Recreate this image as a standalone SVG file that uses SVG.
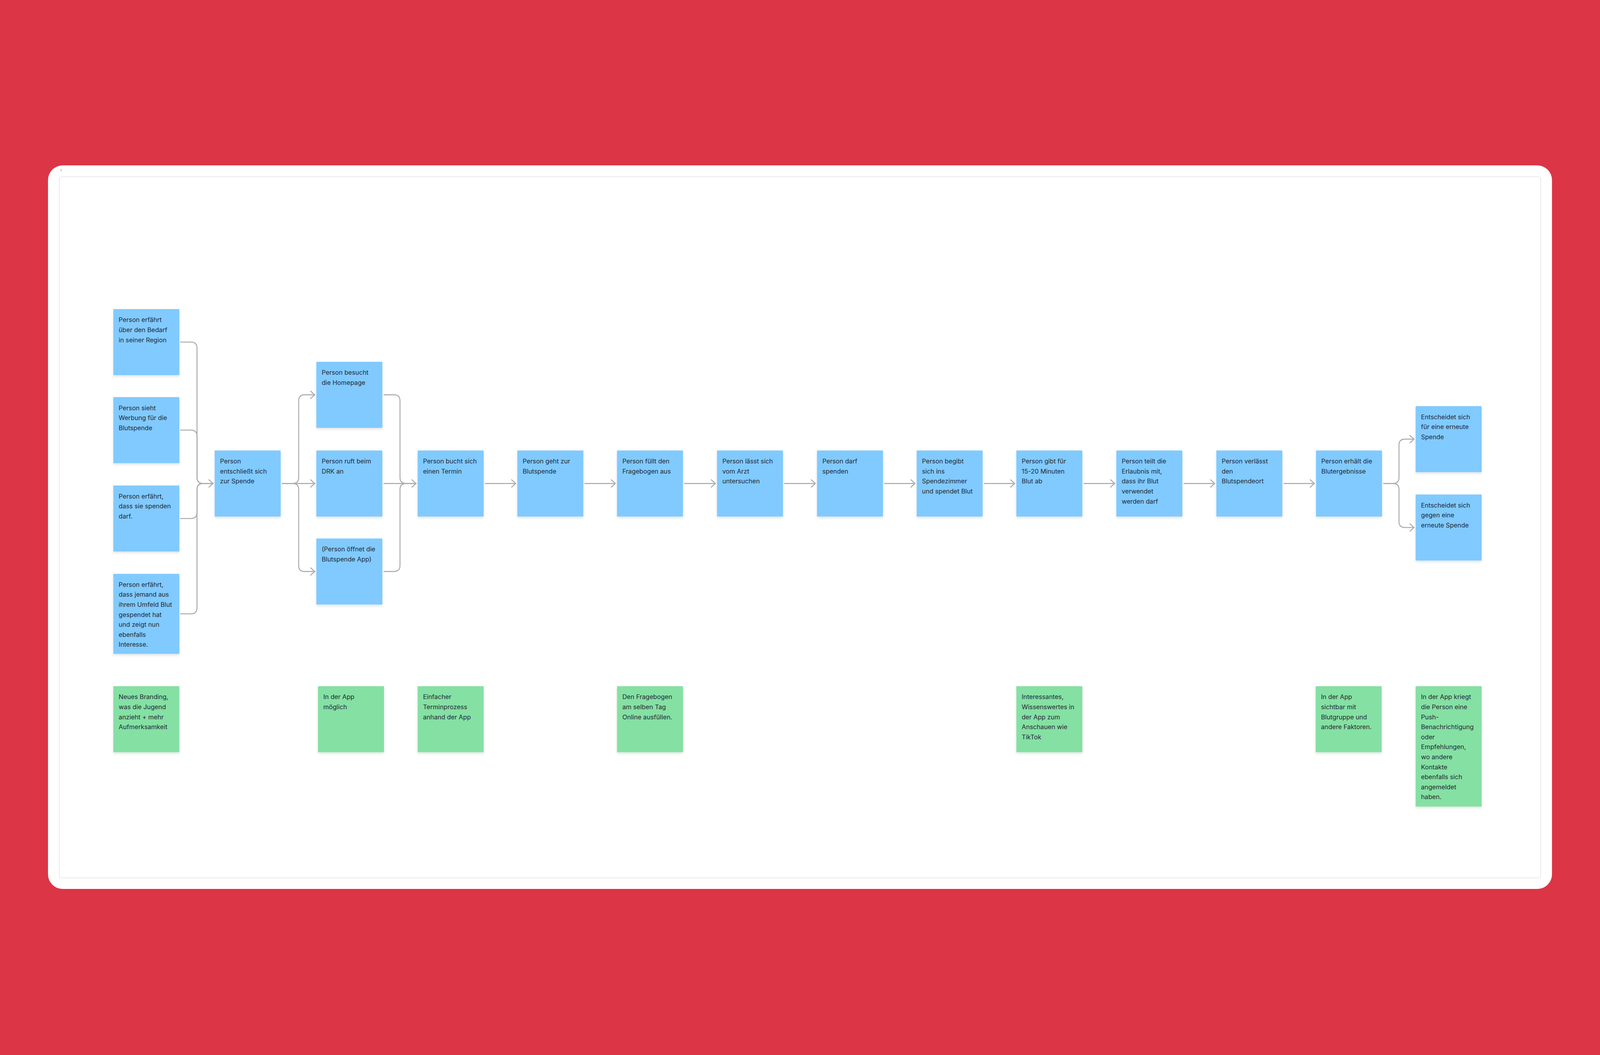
<svg xmlns="http://www.w3.org/2000/svg" width="4800" height="2700" viewBox="0 0 4800 2700">
<defs>
<style>
svg{width:100vw;height:100vh;background:#DC3545;}
.blue{fill:#80CAFF;filter:url(#sh);}
.green{fill:#85E0A3;filter:url(#sh);}
.t{font-family:Inter,"Noto Sans","Liberation Sans",sans-serif;font-size:19px;fill:#1e2836;}
.c{fill:none;stroke:#adadad;stroke-width:3;stroke-linecap:round;stroke-linejoin:round;}
</style>
<filter id="sh" x="-10%" y="-10%" width="120%" height="130%">
<feDropShadow dx="0" dy="4" stdDeviation="4" flood-color="#000" flood-opacity="0.12"/>
</filter>
</defs>
<rect x="0" y="0" width="4800" height="2700" fill="#DC3545"/>
<rect x="144" y="264" width="4512" height="2170" rx="44" fill="#ffffff"/>
<rect x="178" y="298" width="4444" height="2103" rx="6" fill="#ffffff" stroke="#e6e6e6" stroke-width="2"/>
<text x="181" y="282" font-family="Inter,'Liberation Sans',sans-serif" font-size="9" fill="#666">1</text>

<g id="connectors">
<path class="c" d="M542,794 H573 Q591,794 591,812 V1200 Q591,1218 609,1218 H639"/>
<path class="c" d="M542,1058 H573 Q591,1058 591,1076 V1200 Q591,1218 609,1218 H639"/>
<path class="c" d="M542,1323 H573 Q591,1323 591,1305 V1236 Q591,1218 609,1218 H639"/>
<path class="c" d="M542,1609 H573 Q591,1609 591,1591 V1236 Q591,1218 609,1218 H639"/>
<path class="c" d="M627,1207 L639,1218 L627,1229"/>

<path class="c" d="M847,1218 H878 Q896,1218 896,1200 V970 Q896,952 914,952 H944"/>
<path class="c" d="M847,1218 H944"/>
<path class="c" d="M847,1218 H878 Q896,1218 896,1236 V1464 Q896,1482 914,1482 H944"/>
<path class="c" d="M932,941 L944,952 L932,963"/>
<path class="c" d="M932,1207 L944,1218 L932,1229"/>
<path class="c" d="M932,1471 L944,1482 L932,1493"/>

<path class="c" d="M1152,952 H1182 Q1200,952 1200,970 V1200 Q1200,1218 1218,1218 H1248"/>
<path class="c" d="M1152,1218 H1248"/>
<path class="c" d="M1152,1482 H1182 Q1200,1482 1200,1464 V1236 Q1200,1218 1218,1218 H1248"/>
<path class="c" d="M1236,1207 L1248,1218 L1236,1229"/>

<path class="c" d="M1456,1218 H1547 M1535,1207 L1547,1218 L1535,1229"/>
<path class="c" d="M1755,1218 H1846 M1834,1207 L1846,1218 L1834,1229"/>
<path class="c" d="M2054,1218 H2146 M2134,1207 L2146,1218 L2134,1229"/>
<path class="c" d="M2354,1218 H2446 M2434,1207 L2446,1218 L2434,1229"/>
<path class="c" d="M2654,1218 H2745 M2733,1207 L2745,1218 L2733,1229"/>
<path class="c" d="M2953,1218 H3044 M3032,1207 L3044,1218 L3032,1229"/>
<path class="c" d="M3252,1218 H3344 M3332,1207 L3344,1218 L3332,1229"/>
<path class="c" d="M3552,1218 H3644 M3632,1207 L3644,1218 L3632,1229"/>
<path class="c" d="M3852,1218 H3943 M3931,1207 L3943,1218 L3931,1229"/>

<path class="c" d="M4151,1218 H4179 Q4197,1218 4197,1200 V1103 Q4197,1085 4215,1085 H4242"/>
<path class="c" d="M4151,1218 H4179 Q4197,1218 4197,1236 V1332 Q4197,1350 4215,1350 H4242"/>
<path class="c" d="M4230,1074 L4242,1085 L4230,1096"/>
<path class="c" d="M4230,1339 L4242,1350 L4230,1361"/>
</g>

<g id="n1"><rect class="blue" x="340" y="695" width="198" height="198"/>
<text class="t"><tspan x="356" y="734">Person erfährt</tspan><tspan x="356" y="764">über den Bedarf</tspan><tspan x="356" y="794">in seiner Region</tspan></text></g>
<g id="n2"><rect class="blue" x="340" y="959" width="198" height="198"/>
<text class="t"><tspan x="356" y="998">Person sieht</tspan><tspan x="356" y="1028">Werbung für die</tspan><tspan x="356" y="1058">Blutspende</tspan></text></g>
<g id="n3"><rect class="blue" x="340" y="1224" width="198" height="198"/>
<text class="t"><tspan x="356" y="1263">Person erfährt,</tspan><tspan x="356" y="1293">dass sie spenden</tspan><tspan x="356" y="1323">darf.</tspan></text></g>
<g id="n4"><rect class="blue" x="340" y="1489" width="198" height="240"/>
<text class="t"><tspan x="356" y="1528">Person erfährt,</tspan><tspan x="356" y="1558">dass jemand aus</tspan><tspan x="356" y="1588">ihrem Umfeld Blut</tspan><tspan x="356" y="1618">gespendet hat</tspan><tspan x="356" y="1648">und zeigt nun</tspan><tspan x="356" y="1678">ebenfalls</tspan><tspan x="356" y="1708">Interesse.</tspan></text></g>
<g id="n5"><rect class="blue" x="644" y="1119" width="198" height="198"/>
<text class="t"><tspan x="660" y="1158">Person</tspan><tspan x="660" y="1188">entschließt sich</tspan><tspan x="660" y="1218">zur Spende</tspan></text></g>
<g id="n6"><rect class="blue" x="949" y="853" width="198" height="198"/>
<text class="t"><tspan x="965" y="892">Person besucht</tspan><tspan x="965" y="922">die Homepage</tspan></text></g>
<g id="n7"><rect class="blue" x="949" y="1119" width="198" height="198"/>
<text class="t"><tspan x="965" y="1158">Person ruft beim</tspan><tspan x="965" y="1188">DRK an</tspan></text></g>
<g id="n8"><rect class="blue" x="949" y="1383" width="198" height="198"/>
<text class="t"><tspan x="965" y="1422">(Person öffnet die</tspan><tspan x="965" y="1452">Blutspende App)</tspan></text></g>
<g id="n9"><rect class="blue" x="1253" y="1119" width="198" height="198"/>
<text class="t"><tspan x="1269" y="1158">Person bucht sich</tspan><tspan x="1269" y="1188">einen Termin</tspan></text></g>
<g id="n10"><rect class="blue" x="1552" y="1119" width="198" height="198"/>
<text class="t"><tspan x="1568" y="1158">Person geht zur</tspan><tspan x="1568" y="1188">Blutspende</tspan></text></g>
<g id="n11"><rect class="blue" x="1851" y="1119" width="198" height="198"/>
<text class="t"><tspan x="1867" y="1158">Person füllt den</tspan><tspan x="1867" y="1188">Fragebogen aus</tspan></text></g>
<g id="n12"><rect class="blue" x="2151" y="1119" width="198" height="198"/>
<text class="t"><tspan x="2167" y="1158">Person lässt sich</tspan><tspan x="2167" y="1188">vom Arzt</tspan><tspan x="2167" y="1218">untersuchen</tspan></text></g>
<g id="n13"><rect class="blue" x="2451" y="1119" width="198" height="198"/>
<text class="t"><tspan x="2467" y="1158">Person darf</tspan><tspan x="2467" y="1188">spenden</tspan></text></g>
<g id="n14"><rect class="blue" x="2750" y="1119" width="198" height="198"/>
<text class="t"><tspan x="2766" y="1158">Person begibt</tspan><tspan x="2766" y="1188">sich ins</tspan><tspan x="2766" y="1218">Spendezimmer</tspan><tspan x="2766" y="1248">und spendet Blut</tspan></text></g>
<g id="n15"><rect class="blue" x="3049" y="1119" width="198" height="198"/>
<text class="t"><tspan x="3065" y="1158">Person gibt für</tspan><tspan x="3065" y="1188">15-20 Minuten</tspan><tspan x="3065" y="1218">Blut ab</tspan></text></g>
<g id="n16"><rect class="blue" x="3349" y="1119" width="198" height="198"/>
<text class="t"><tspan x="3365" y="1158">Person teilt die</tspan><tspan x="3365" y="1188">Erlaubnis mit,</tspan><tspan x="3365" y="1218">dass ihr Blut</tspan><tspan x="3365" y="1248">verwendet</tspan><tspan x="3365" y="1278">werden darf</tspan></text></g>
<g id="n17"><rect class="blue" x="3649" y="1119" width="198" height="198"/>
<text class="t"><tspan x="3665" y="1158">Person verlässt</tspan><tspan x="3665" y="1188">den</tspan><tspan x="3665" y="1218">Blutspendeort</tspan></text></g>
<g id="n18"><rect class="blue" x="3948" y="1119" width="198" height="198"/>
<text class="t"><tspan x="3964" y="1158">Person erhält die</tspan><tspan x="3964" y="1188">Blutergebnisse</tspan></text></g>
<g id="n19"><rect class="blue" x="4247" y="986" width="198" height="198"/>
<text class="t"><tspan x="4263" y="1025">Entscheidet sich</tspan><tspan x="4263" y="1055">für eine erneute</tspan><tspan x="4263" y="1085">Spende</tspan></text></g>
<g id="n20"><rect class="blue" x="4247" y="1251" width="198" height="198"/>
<text class="t"><tspan x="4263" y="1290">Entscheidet sich</tspan><tspan x="4263" y="1320">gegen eine</tspan><tspan x="4263" y="1350">erneute Spende</tspan></text></g>

<g id="g1"><rect class="green" x="340" y="1826" width="198" height="198"/>
<text class="t"><tspan x="356" y="1865">Neues Branding,</tspan><tspan x="356" y="1895">was die Jugend</tspan><tspan x="356" y="1925">anzieht + mehr</tspan><tspan x="356" y="1955">Aufmerksamkeit</tspan></text></g>
<g id="g2"><rect class="green" x="954" y="1826" width="198" height="198"/>
<text class="t"><tspan x="970" y="1865">In der App</tspan><tspan x="970" y="1895">möglich</tspan></text></g>
<g id="g3"><rect class="green" x="1253" y="1826" width="198" height="198"/>
<text class="t"><tspan x="1269" y="1865">Einfacher</tspan><tspan x="1269" y="1895">Terminprozess</tspan><tspan x="1269" y="1925">anhand der App</tspan></text></g>
<g id="g4"><rect class="green" x="1851" y="1826" width="198" height="198"/>
<text class="t"><tspan x="1867" y="1865">Den Fragebogen</tspan><tspan x="1867" y="1895">am selben Tag</tspan><tspan x="1867" y="1925">Online ausfüllen.</tspan></text></g>
<g id="g5"><rect class="green" x="3049" y="1826" width="198" height="198"/>
<text class="t"><tspan x="3065" y="1865">Interessantes,</tspan><tspan x="3065" y="1895">Wissenswertes in</tspan><tspan x="3065" y="1925">der App zum</tspan><tspan x="3065" y="1955">Anschauen wie</tspan><tspan x="3065" y="1985">TikTok</tspan></text></g>
<g id="g6"><rect class="green" x="3947" y="1826" width="198" height="198"/>
<text class="t"><tspan x="3963" y="1865">In der App</tspan><tspan x="3963" y="1895">sichtbar mit</tspan><tspan x="3963" y="1925">Blutgruppe und</tspan><tspan x="3963" y="1955">andere Faktoren.</tspan></text></g>
<g id="g7"><rect class="green" x="4247" y="1826" width="198" height="361"/>
<text class="t"><tspan x="4263" y="1865">In der App kriegt</tspan><tspan x="4263" y="1895">die Person eine</tspan><tspan x="4263" y="1925">Push-</tspan><tspan x="4263" y="1955">Benachrichtigung</tspan><tspan x="4263" y="1985">oder</tspan><tspan x="4263" y="2015">Empfehlungen,</tspan><tspan x="4263" y="2045">wo andere</tspan><tspan x="4263" y="2075">Kontakte</tspan><tspan x="4263" y="2105">ebenfalls sich</tspan><tspan x="4263" y="2135">angemeldet</tspan><tspan x="4263" y="2165">haben.</tspan></text></g>
</svg>
